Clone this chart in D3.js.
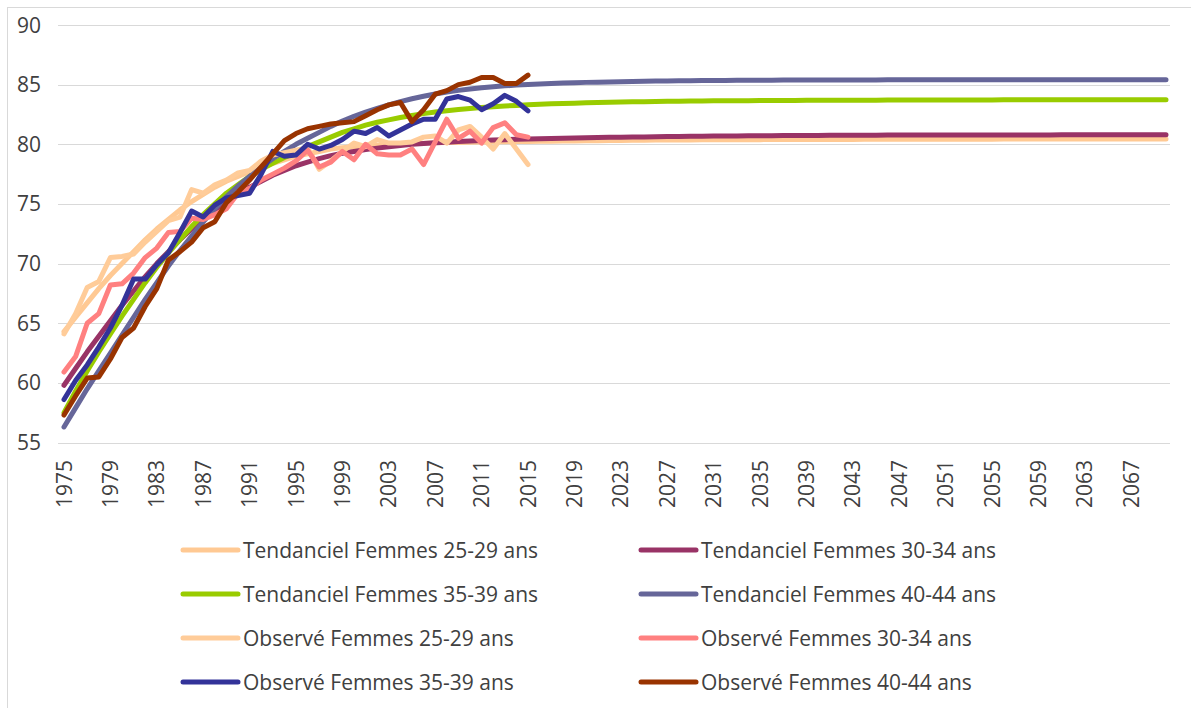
<!DOCTYPE html>
<html><head><meta charset="utf-8">
<script src="https://cdn.jsdelivr.net/npm/d3@7"></script>
<style>
body{margin:0;background:#fff}
svg{display:block}
text{font-family:"Open Sans",sans-serif;fill:#404040;font-size:21px}
</style>
</head><body>
<svg id="chart" width="1191" height="708"></svg>
<script>
// ---------------- DATA ----------------
const years = d3.range(1975, 2071);          // categories 1975..2070
const observedYears = d3.range(1975, 2016);  // 1975..2015
const yTicks = [55, 60, 65, 70, 75, 80, 85, 90];
const xTickLabels = d3.range(1975, 2071, 4); // 1975, 1979, ... 2067

const tend2529 = [
 64.3,65.5,66.7,67.9,69.0,70.0,71.0,72.0,72.9,73.7,
 74.5,75.2,75.8,76.4,76.9,77.3,77.7,78.1,78.4,78.7,
 79.0,79.2,79.4,79.6,79.72,79.8,79.87,79.93,79.98,80.02,
 80.06,80.09,80.12,80.14,80.16,80.18,80.2,80.21,80.22,80.23,
 80.24,80.25,80.26,80.27,80.28,80.29,80.3,80.31,80.32,80.33,
 80.34,80.35,80.35,80.36,80.36,80.37,80.37,80.38,80.38,80.39,
 80.39,80.4,80.4,80.4,80.4,80.4,80.41,80.41,80.41,80.42,
 80.42,80.42,80.43,80.43,80.43,80.43,80.43,80.43,80.43,80.43,
 80.43,80.44,80.44,80.44,80.44,80.44,80.44,80.44,80.44,80.44,
 80.44,80.44,80.44,80.44,80.44,80.44];
const tend3034 = [
 59.8,61.2,62.6,63.9,65.2,66.5,67.7,68.9,70.0,71.0,
 72.0,72.9,73.7,74.5,75.2,75.8,76.4,76.9,77.4,77.8,
 78.2,78.5,78.8,79.05,79.25,79.4,79.55,79.68,79.8,79.9,
 80.0,80.07,80.13,80.18,80.23,80.28,80.32,80.36,80.39,80.42,
 80.45,80.47,80.49,80.51,80.53,80.55,80.57,80.58,80.6,80.61,
 80.62,80.64,80.65,80.66,80.67,80.68,80.69,80.7,80.7,80.71,
 80.72,80.72,80.73,80.73,80.74,80.74,80.75,80.75,80.76,80.76,
 80.76,80.77,80.77,80.77,80.77,80.77,80.78,80.78,80.78,80.78,
 80.78,80.78,80.78,80.78,80.78,80.78,80.79,80.79,80.79,80.79,
 80.79,80.79,80.79,80.79,80.79,80.79];
const tend3539 = [
 57.5,59.3,61.0,62.6,64.1,65.6,67.0,68.4,69.7,70.9,
 72.0,73.1,74.1,75.0,75.9,76.6,77.3,77.9,78.4,78.9,
 79.3,79.8,80.2,80.6,81.0,81.3,81.6,81.85,82.05,82.25,
 82.42,82.57,82.7,82.82,82.92,83.0,83.08,83.15,83.21,83.26,
 83.31,83.35,83.39,83.42,83.45,83.48,83.5,83.52,83.54,83.56,
 83.57,83.59,83.6,83.61,83.62,83.63,83.64,83.65,83.66,83.66,
 83.67,83.67,83.68,83.68,83.69,83.69,83.7,83.7,83.7,83.7,
 83.7,83.71,83.71,83.71,83.71,83.71,83.72,83.72,83.72,83.72,
 83.72,83.73,83.73,83.73,83.73,83.73,83.74,83.74,83.74,83.74,
 83.74,83.74,83.74,83.74,83.74,83.74];
const tend4044 = [
 56.3,57.9,59.5,61.0,62.5,64.0,65.5,67.0,68.4,69.8,
 71.1,72.3,73.5,74.6,75.6,76.5,77.3,78.1,78.8,79.4,
 80.0,80.5,81.0,81.5,81.95,82.35,82.7,83.0,83.3,83.58,
 83.82,84.03,84.22,84.38,84.52,84.64,84.74,84.83,84.9,84.96,
 85.01,85.05,85.09,85.13,85.16,85.19,85.21,85.23,85.25,85.27,
 85.28,85.3,85.31,85.32,85.33,85.34,85.35,85.35,85.36,85.36,
 85.37,85.37,85.38,85.38,85.38,85.39,85.39,85.39,85.39,85.39,
 85.39,85.4,85.4,85.4,85.4,85.4,85.4,85.4,85.4,85.4,
 85.4,85.41,85.41,85.41,85.41,85.41,85.41,85.41,85.41,85.41,
 85.41,85.42,85.42,85.42,85.42,85.42];

const obs2529 = [
 64.1,65.8,68.0,68.5,70.5,70.6,70.8,71.8,72.7,73.6,
 73.9,76.2,75.9,76.6,77.0,77.6,77.8,78.6,79.1,79.3,
 79.5,79.7,77.9,78.6,79.4,80.1,79.8,80.4,80.1,80.1,
 80.2,80.6,80.7,80.1,81.2,81.5,80.6,79.6,80.9,79.6,
 78.3];
const obs3034 = [
 60.9,62.2,65.0,65.8,68.2,68.3,69.2,70.5,71.3,72.6,
 72.7,73.8,73.7,74.1,74.6,75.9,76.3,77.0,77.5,78.0,
 78.6,79.5,78.1,78.5,79.4,78.7,80.0,79.2,79.1,79.1,
 79.6,78.3,80.2,82.1,80.5,81.1,80.1,81.4,81.8,80.8,
 80.6];
const obs3539 = [
 58.6,60.2,61.5,63.0,64.6,66.5,68.7,68.7,69.9,70.9,
 72.6,74.4,73.9,74.9,75.5,75.7,75.9,77.5,79.4,79.0,
 79.1,80.0,79.6,79.9,80.4,81.1,80.9,81.4,80.7,81.2,
 81.7,82.1,82.1,83.8,84.0,83.7,82.9,83.4,84.1,83.6,
 82.8];
const obs4044 = [
 57.3,58.9,60.4,60.5,62.0,63.8,64.6,66.4,67.9,70.3,
 71.0,71.8,73.0,73.5,75.1,76.0,77.0,78.1,79.2,80.3,
 80.9,81.3,81.5,81.7,81.8,81.9,82.4,82.9,83.3,83.5,
 81.9,82.9,84.2,84.5,85.0,85.2,85.6,85.6,85.1,85.1,
 85.8];

const seriesNames = [
 "Tendanciel Femmes 25-29 ans","Tendanciel Femmes 30-34 ans",
 "Tendanciel Femmes 35-39 ans","Tendanciel Femmes 40-44 ans",
 "Observé Femmes 25-29 ans","Observé Femmes 30-34 ans",
 "Observé Femmes 35-39 ans","Observé Femmes 40-44 ans"];
const seriesColors = ["#FFC993","#993366","#99CC00","#666699",
                      "#FFCC99","#FF8080","#333399","#993300"];
const seriesValues = [tend2529,tend3034,tend3539,tend4044,obs2529,obs3034,obs3539,obs4044];
const seriesYears  = [years,years,years,years,observedYears,observedYears,observedYears,observedYears];

// ---------------- CHART ----------------
const svg = d3.select("#chart");
const plotLeft = 58, plotRight = 1170;

// outer chart border
svg.append("rect").attr("x",7.5).attr("y",7.5).attr("width",1300).attr("height",800)
  .attr("fill","none").attr("stroke","#d9d9d9").attr("stroke-width",1);

const x = d3.scalePoint().domain(years).range([64, 1166]);
const y = d3.scaleLinear().domain([55, 90]).range([442.5, 25]);

// gridlines
svg.append("g").selectAll("line").data(yTicks).join("line")
  .attr("x1",plotLeft).attr("x2",plotRight)
  .attr("y1",d=>Math.round(y(d))+0.5).attr("y2",d=>Math.round(y(d))+0.5)
  .attr("stroke","#d9d9d9").attr("stroke-width",1);

// y labels
svg.append("g").selectAll("text").data(yTicks).join("text")
  .attr("x",41).attr("y",d=>y(d)).attr("dy","0.36em")
  .attr("text-anchor","end").text(d=>d);

// x labels
svg.append("g").selectAll("text").data(xTickLabels).join("text")
  .attr("transform",d=>`translate(${x(d)},460) rotate(-90)`)
  .attr("dy","0.36em").attr("text-anchor","end").text(d=>d);

// lines
const line = d3.line().x(d=>x(d[0])).y(d=>y(d[1]));
seriesValues.forEach((vals,i)=>{
  const pts = seriesYears[i].map((yr,j)=>[yr, vals[j]]);
  svg.append("path").datum(pts)
    .attr("d",line).attr("fill","none")
    .attr("stroke",seriesColors[i]).attr("stroke-width",5)
    .attr("stroke-linejoin","round").attr("stroke-linecap","round");
});

// legend
const legCols = [183, 641];
const legRows = [550, 594, 638, 682];
const leg = svg.append("g").selectAll("g").data(seriesNames).join("g")
  .attr("transform",(d,i)=>`translate(${legCols[i%2]},${legRows[Math.floor(i/2)]})`);
leg.append("line").attr("x1",0).attr("x2",55).attr("y1",0).attr("y2",0)
  .attr("stroke",(d,i)=>seriesColors[i]).attr("stroke-width",5).attr("stroke-linecap","round");
leg.append("text").attr("x",60).attr("y",0).attr("dy","0.36em").text(d=>d);
</script>
</body></html>
